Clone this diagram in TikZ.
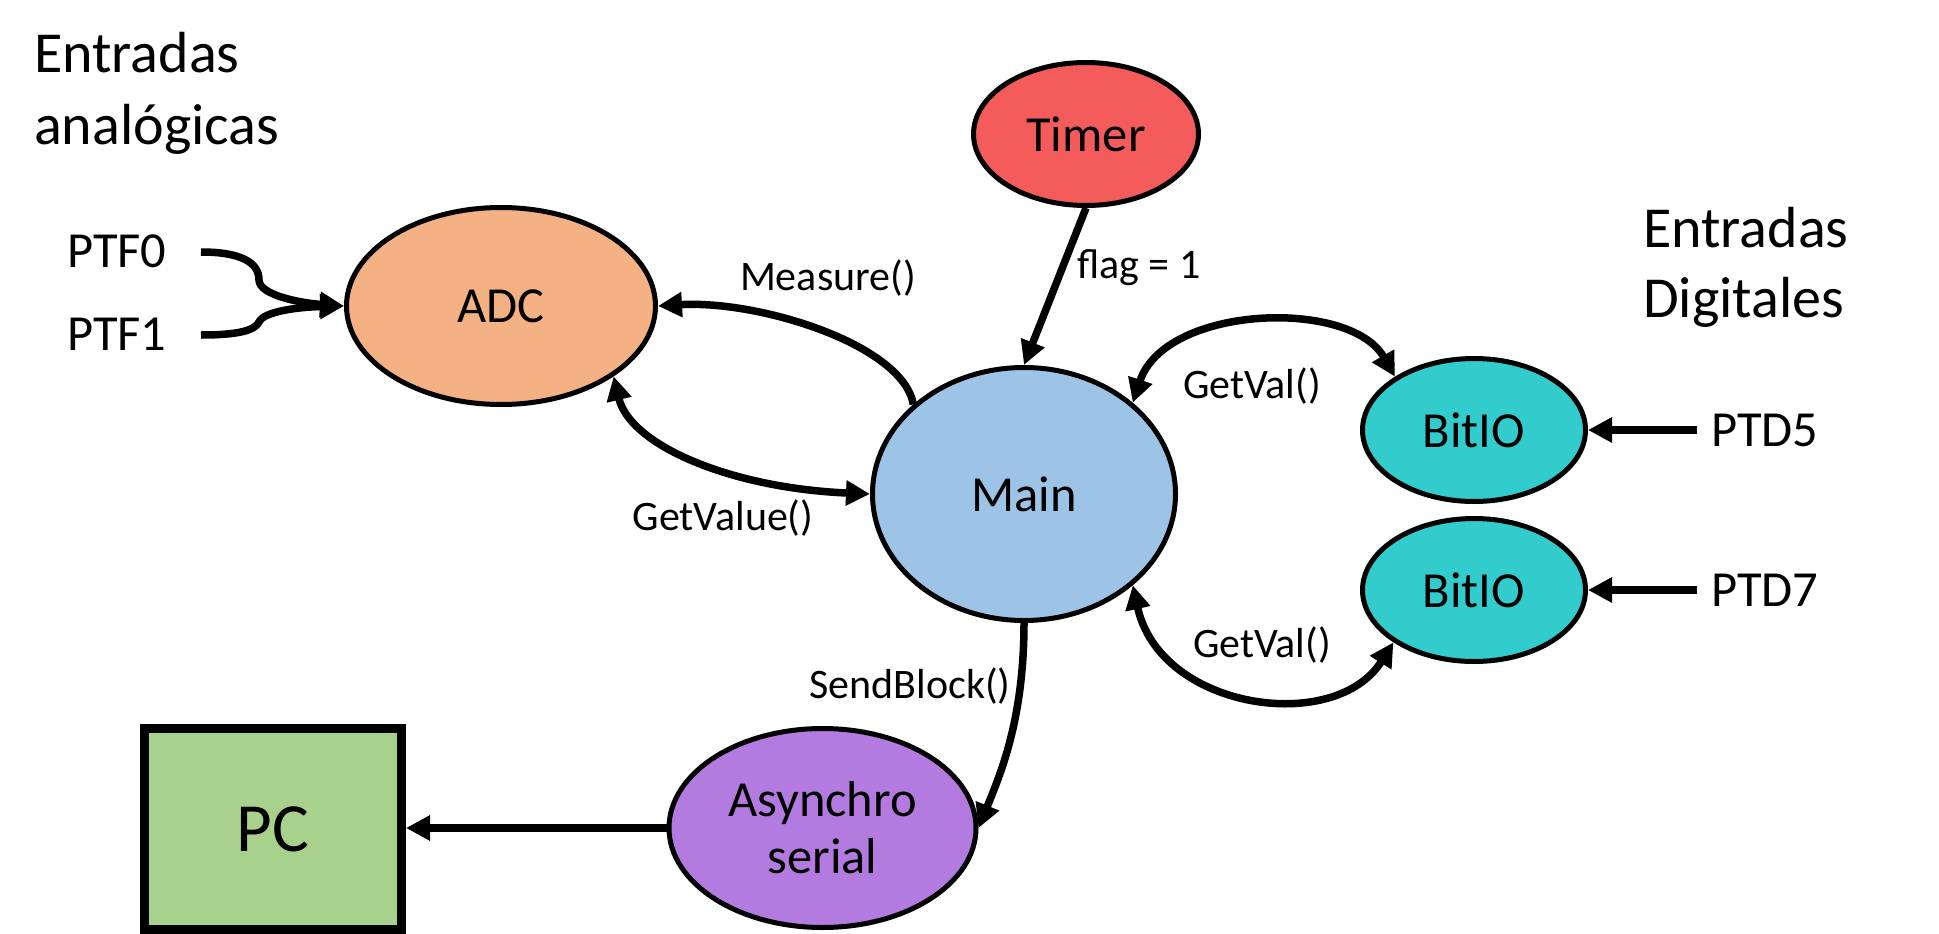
\documentclass[tikz,border=0pt]{standalone}
\usepackage{fontspec}
\setmainfont{Carlito}
\usetikzlibrary{arrows.meta,shapes.geometric}
\definecolor{timerred}{HTML}{F45B5B}
\definecolor{adcorange}{HTML}{F4B183}
\definecolor{mainblue}{HTML}{9DC3E6}
\definecolor{bitteal}{HTML}{33CCCC}
\definecolor{asyncpurple}{HTML}{B37BE0}
\definecolor{pcgreen}{HTML}{A9D18E}
\newcommand\nodefont{\fontsize{50.5pt}{57pt}\selectfont}
\newcommand\lblfont{\fontsize{42pt}{50pt}\selectfont}
\newcommand\titlefont{\fontsize{58pt}{70pt}\selectfont}
\newcommand\pcfont{\fontsize{69pt}{80pt}\selectfont}
\begin{document}
\begin{tikzpicture}[x=1pt,y=-1pt,
  >={Triangle[length=24pt,width=24pt]},
  ell/.style={ellipse, draw=black, line width=5pt, inner sep=0pt, font=\nodefont},
  conn/.style={line width=7.5pt, ->},
  dconn/.style={line width=7.5pt, <->},
  txt/.style={inner sep=0pt, anchor=base west},
  lbl/.style={inner sep=0pt, anchor=base, font=\lblfont}]
\fill[white] (0,0) rectangle (1939,934);
\useasboundingbox (0,0) rectangle (1939,934);

\node[ell, fill=timerred, minimum width=225pt, minimum height=143pt] (Timer) at (1086,134) {Timer};
\node[ell, fill=adcorange, minimum width=309pt, minimum height=197pt] (ADC) at (501,306) {ADC};
\node[ell, fill=mainblue, minimum width=303pt, minimum height=253pt] (Main) at (1024,494) {Main};
\node[ell, fill=bitteal, minimum width=223pt, minimum height=143pt] (B1) at (1474,430) {BitIO};
\node[ell, fill=bitteal, minimum width=223pt, minimum height=143pt] (B2) at (1474,590) {BitIO};
\node[ell, fill=asyncpurple, minimum width=307pt, minimum height=199pt, align=center] (Async) at (822.5,828) {Asynchro\\serial};
\node[draw=black, line width=9pt, fill=pcgreen, minimum width=257.5pt, minimum height=201pt, inner sep=0pt, font=\pcfont] (PC) at (272.75,829) {PC};

\node[txt, font=\titlefont] (ea1) at (34,73) {Entradas};
\node[txt, font=\titlefont] (ea2) at (34,144) {analógicas};
\node[txt, font=\titlefont] (ed1) at (1643,247) {Entradas};
\node[txt, font=\titlefont] (ed2) at (1643,317) {Digitales};
\node[txt, font=\nodefont] (PTF0) at (67,267) {PTF0};
\node[txt, font=\nodefont] (PTF1) at (67,350) {PTF1};
\node[txt, font=\nodefont] (PTD5) at (1711,446) {PTD5};
\node[txt, font=\nodefont] (PTD7) at (1711,606) {PTD7};

\node[lbl] (lm) at (828,290) {Measure()};
\node[lbl, anchor=base west] (lf) at (1077,278) {flag = 1};
\node[lbl] (lgv) at (723,530) {GetValue()};
\node[lbl] (lg1) at (1252,398) {GetVal()};
\node[lbl] (lg2) at (1262,657) {GetVal()};
\node[lbl] (ls) at (910,698) {SendBlock()};

\coordinate (f0) at (201,252);
\coordinate (f1) at (201,335);
\coordinate (d5) at (1697,430);
\coordinate (d7) at (1697,590);

\draw[conn] (f0) .. controls (240,252) and (259,262) .. (259,280) .. controls (259,295) and (300,303) .. (ADC.west);
\draw[conn] (f1) .. controls (240,335) and (255,330) .. (259,322) .. controls (264,311) and (300,307) .. (ADC.west);
\draw[conn] (Main.141) .. controls (903,345) and (760,300) .. (ADC.east);
\draw[dconn] (ADC.-32.5) .. controls (630,445) and (730,488) .. (Main.west);
\draw[conn] (Timer.south) -- (Main.north);
\draw[dconn] (Main.40) .. controls (1165,305) and (1350,298) .. (B1.146);
\draw[dconn] (Main.-40) .. controls (1160,710) and (1335,735) .. (B2.213);
\draw[conn] (d5) -- (B1.east);
\draw[conn] (d7) -- (B2.east);
\draw[conn] (Main.south) .. controls (1024,720) and (1000,775) .. (Async.east);
\draw[conn] (Async.west) -- (Async.west -| PC.east);
\end{tikzpicture}
\end{document}
